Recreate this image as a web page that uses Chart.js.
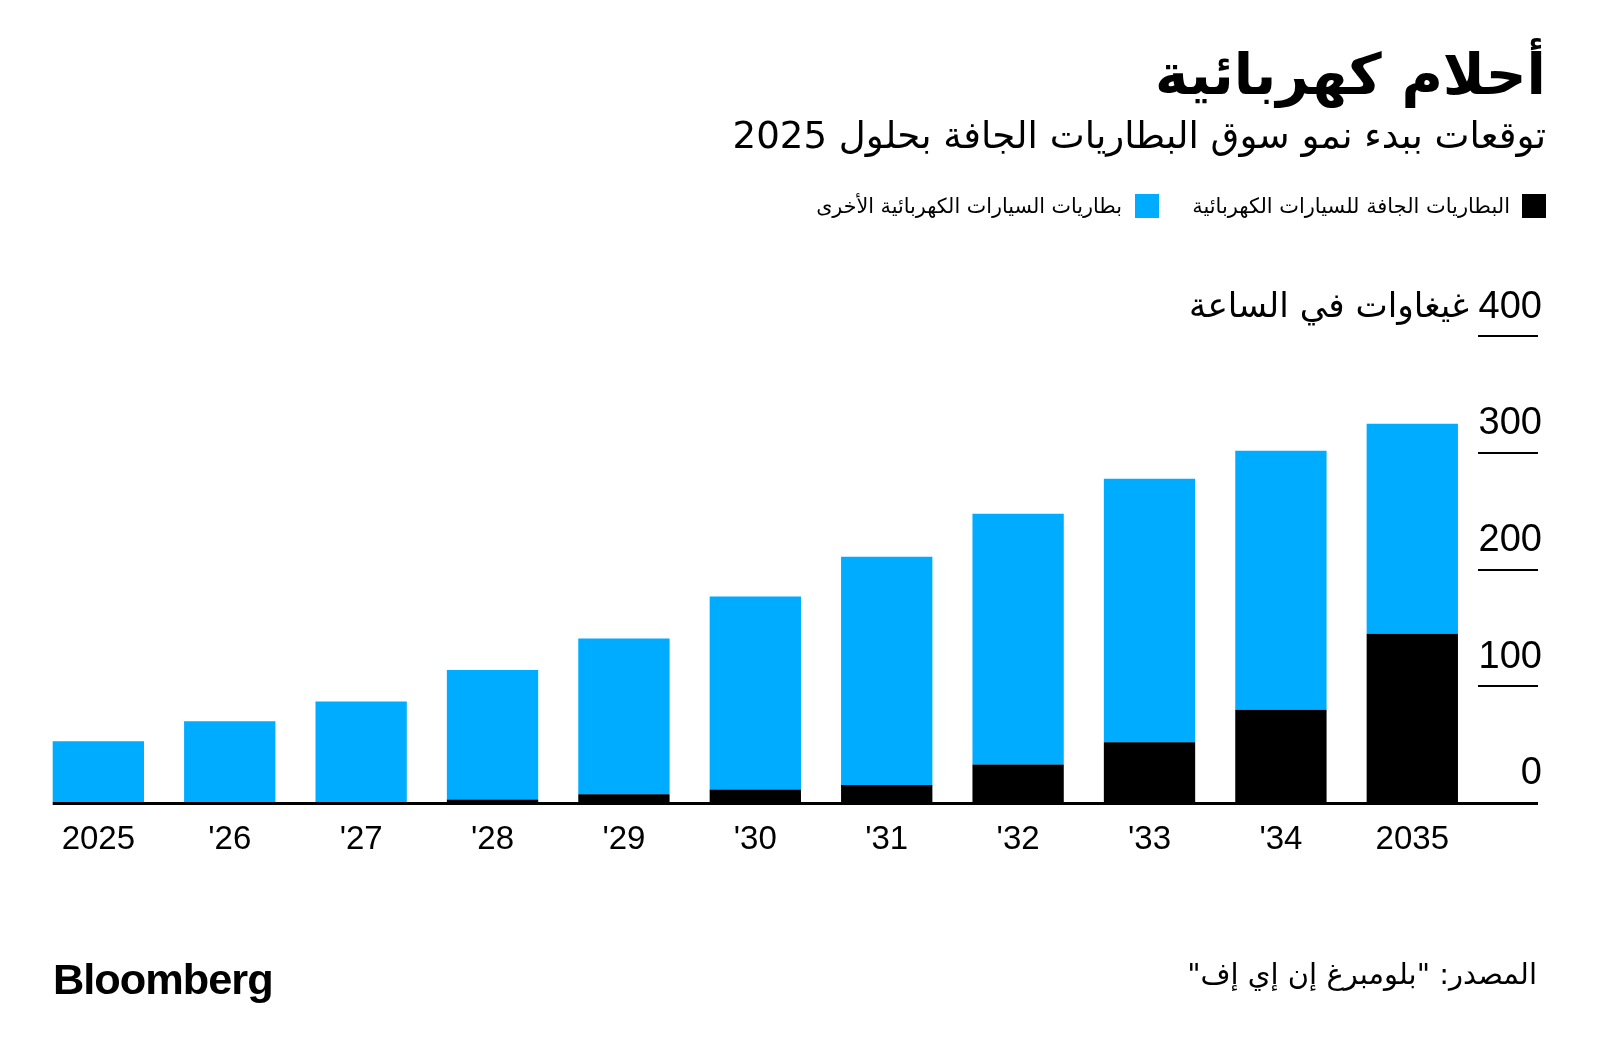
<!DOCTYPE html>
<html lang="ar">
<head>
<meta charset="utf-8">
<script src="https://cdn.jsdelivr.net/npm/chart.js@4.4.1/dist/chart.umd.min.js"></script>
<style>
html,body{margin:0;padding:0;background:#fff;}
body{width:1600px;height:1057px;position:relative;overflow:hidden;}
#c{position:absolute;left:0;top:0;}
.t{position:absolute;white-space:nowrap;direction:rtl;color:#000;line-height:1;transform:translateY(-50%);font-family:"DejaVu Sans",sans-serif;}
#title{right:54px;top:74px;font-size:60px;font-weight:bold;}
#subtitle{right:54px;top:136px;font-size:38px;}
#leg1{right:90px;top:206px;font-size:20px;}
#leg2{right:478px;top:206px;font-size:20px;}
.sq{position:absolute;width:24px;height:24px;top:194px;}
#sq1{left:1522px;background:#000;}
#sq2{left:1135px;background:#00acff;}
#unit{right:131px;top:305px;font-size:32px;}
#source{right:63px;top:975px;font-size:26px;}
#logo{position:absolute;left:53px;top:980px;transform:translateY(-50%);font-family:"Liberation Sans",Arial,sans-serif;font-weight:bold;font-size:40px;letter-spacing:-1px;line-height:1;white-space:nowrap;}
</style>
</head>
<body>
<canvas id="c" width="1600" height="1057"></canvas>
<div class="t" id="title">أحلام كهربائية</div>
<div class="t" id="subtitle">توقعات ببدء نمو سوق البطاريات الجافة بحلول 2025</div>
<div class="sq" id="sq1"></div>
<div class="t" id="leg1">البطاريات الجافة للسيارات الكهربائية</div>
<div class="sq" id="sq2"></div>
<div class="t" id="leg2">بطاريات السيارات الكهربائية الأخرى</div>
<div class="t" id="unit">غيغاوات في الساعة</div>
<div id="logo">Bloomberg</div>
<div class="t" id="source">المصدر: "بلومبرغ إن إي إف"</div>
<script>
// ---- data ----
const categories = ['2025', "'26", "'27", "'28", "'29", "'30", "'31", "'32", "'33", "'34", '2035'];
const solidStateEV = [0, 0, 0, 3, 7.5, 11.5, 15.5, 33, 52, 80, 145];
const otherEV = [53, 70, 87, 111, 133.5, 165.5, 195.5, 215, 226, 222, 180];
const seriesNames = ['البطاريات الجافة للسيارات الكهربائية', 'بطاريات السيارات الكهربائية الأخرى'];
const yTickValues = [0, 100, 200, 300, 400];

// ---- text fitting ----
function fit(id, w) {
  const el = document.getElementById(id);
  const fs = parseFloat(getComputedStyle(el).fontSize);
  const cur = el.getBoundingClientRect().width;
  if (cur > 0) el.style.fontSize = (fs * w / cur) + 'px';
}
fit('title', 391);
fit('subtitle', 814);
fit('leg1', 318);
fit('leg2', 306);
fit('unit', 280);
fit('source', 350);
fit('logo', 219);

const TICK_LEN = 60;
const baselinePlugin = {
  id: 'baseline',
  afterDatasetsDraw(chart) {
    const ctx = chart.ctx;
    const meta = chart.getDatasetMeta(0);
    const first = meta.data[0];
    const left = first.x - first.width / 2;
    const y0 = chart.scales.y.getPixelForValue(0);
    const right = chart.chartArea.right + TICK_LEN;
    ctx.save();
    ctx.fillStyle = '#000';
    ctx.fillRect(left, y0 - 1, right - left, 3);
    ctx.restore();
  }
};

new Chart(document.getElementById('c'), {
  type: 'bar',
  data: {
    labels: categories,
    datasets: [
      { label: seriesNames[0], data: solidStateEV, backgroundColor: '#000000', borderWidth: 0 },
      { label: seriesNames[1], data: otherEV, backgroundColor: '#00acff', borderWidth: 0 }
    ]
  },
  options: {
    responsive: false,
    animation: false,
    devicePixelRatio: 1,
    layout: { padding: { left: 32.65, right: 58, top: 336.3, bottom: 194 } },
    categoryPercentage: 0.695,
    barPercentage: 1,
    plugins: { legend: { display: false }, tooltip: { enabled: false }, title: { display: false } },
    scales: {
      x: {
        stacked: true,
        offset: true,
        grid: { display: false, drawTicks: false },
        border: { display: false },
        ticks: { color: '#000', font: { family: 'Liberation Sans', size: 33 }, padding: 17, maxRotation: 0, autoSkip: false },
        afterFit(s) { s.height = 60; }
      },
      y: {
        position: 'right',
        stacked: true,
        min: 0,
        max: 400,
        afterBuildTicks(s) { s.ticks = yTickValues.map(v => ({ value: v })); },
        ticks: { color: '#000', font: { family: 'Liberation Sans', size: 38 }, crossAlign: 'far', padding: 0, labelOffset: -29 },
        grid: { drawOnChartArea: false, drawTicks: true, tickLength: TICK_LEN, color: '#000', lineWidth: 2 },
        border: { display: false },
        afterFit(s) { s.width = 64; }
      }
    }
  },
  plugins: [baselinePlugin]
});
</script>
</body>
</html>
